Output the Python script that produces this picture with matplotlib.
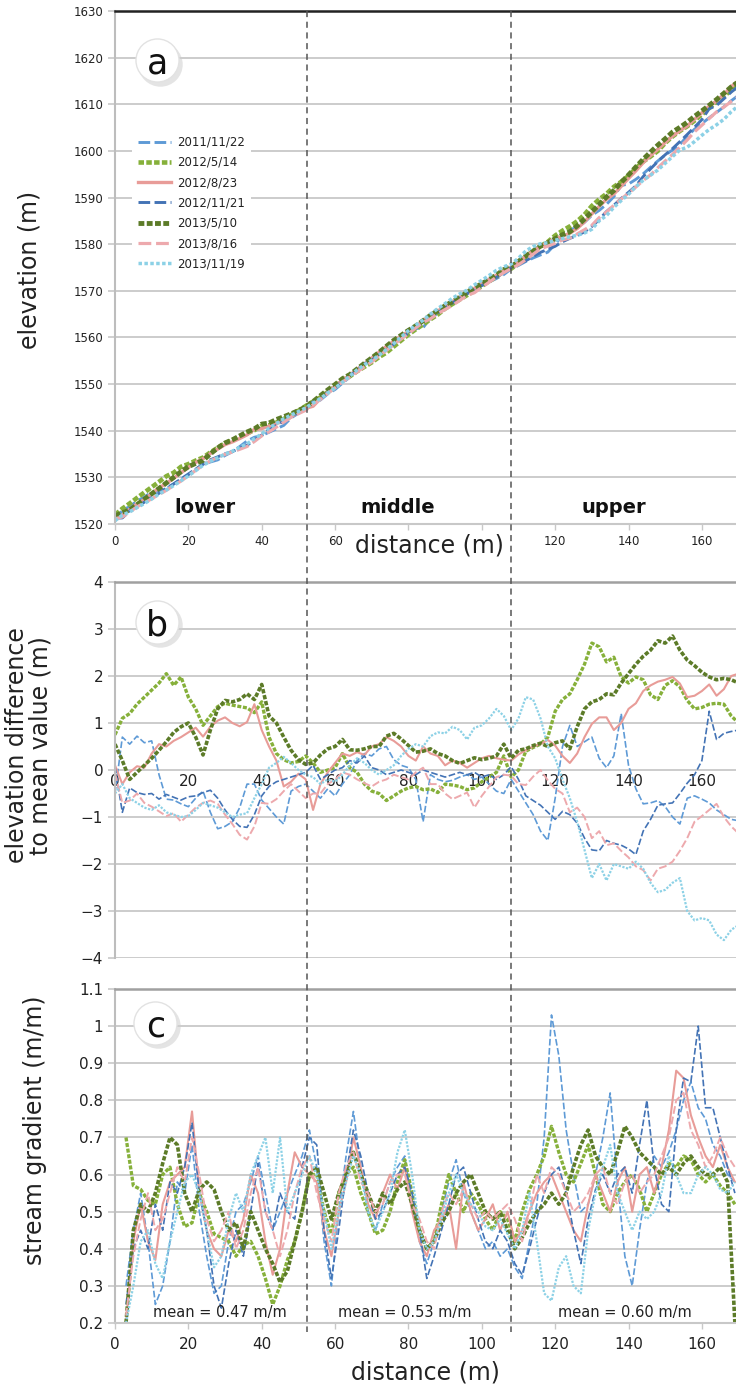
import numpy as np
import matplotlib
matplotlib.use("Agg")
import matplotlib.pyplot as plt
from matplotlib.lines import Line2D

plt.rcParams['font.family'] = ['DejaVu Sans']

# distance along the stream (m), profile and difference values every 2 m
distance = np.arange(0, 171, 2)
# gradient values are centred on odd metres (moving window)
grad_distance = np.arange(3, 170, 2)

surveys = ['2011/11/22', '2012/5/14', '2012/8/23', '2012/11/21',
           '2013/5/10', '2013/8/16', '2013/11/19']

# mean long profile of all surveys (m)
mean_elev = [
    1521.2, 1522.2, 1523.2, 1524.2, 1525.2, 1526.2, 1527.2, 1528.2, 1529.2, 1530.3,
    1531.3, 1532.3, 1533.3, 1534.2, 1535.0, 1535.9, 1536.6, 1537.4, 1538.1, 1538.9,
    1539.6, 1540.5, 1541.4, 1542.3, 1543.2, 1544.1, 1545.0, 1546.1, 1547.2, 1548.3,
    1549.4, 1550.5, 1551.6, 1552.8, 1554.0, 1555.1, 1556.3, 1557.4, 1558.6, 1559.8,
    1561.0, 1562.1, 1563.2, 1564.3, 1565.4, 1566.5, 1567.5, 1568.5, 1569.5, 1570.4,
    1571.3, 1572.2, 1573.1, 1574.0, 1574.9, 1575.9, 1577.0, 1578.0, 1579.0, 1579.8,
    1580.6, 1581.4, 1582.2, 1583.0, 1584.1, 1585.5, 1587.0, 1588.5, 1589.9, 1591.4,
    1592.8, 1594.3, 1595.8, 1597.2, 1598.5, 1599.9, 1601.2, 1602.5, 1603.8, 1605.2,
    1606.5, 1607.8, 1609.1, 1610.4, 1611.8, 1613.0]

# elevation difference to mean value (m)
diff_2011_11_22 = [
    -0.5, 0.7, 0.55, 0.72, 0.58, 0.62, -0.1, -0.62, -0.64, -0.72,
    -0.78, -0.6, -0.45, -0.9, -1.25, -1.2, -1.1, -0.8, -0.3, -0.3,
    -0.64, -0.82, -1.0, -1.15, -0.45, -0.35, -0.3, -0.45, -0.6, -0.4,
    -0.55, -0.3, -0.1, 0.2, 0.35, 0.3, 0.45, 0.5, 0.22, 0.1,
    0.05, -0.2, -1.1, -0.1, -0.2, -0.25, -0.22, -0.15, -0.1, -0.2,
    -0.15, -0.3, -0.45, -0.5, -0.2, -0.45, -0.7, -0.95, -1.3, -1.5,
    -0.6, 0.5, 0.95, 0.5, 0.6, 0.7, 0.25, 0.05, 0.3, 1.2,
    0.1, -0.4, -0.72, -0.7, -0.65, -0.78, -1.0, -1.15, -0.6, -0.55,
    -0.62, -0.7, -0.85, -0.95, -1.05, -1.08]
diff_2012_05_14 = [
    0.75, 1.1, 1.2, 1.4, 1.55, 1.7, 1.85, 2.05, 1.8, 1.98,
    1.55, 1.3, 0.95, 1.15, 1.35, 1.42, 1.38, 1.35, 1.32, 1.22,
    1.45, 0.7, 0.35, 0.22, 0.15, 0.18, 0.3, 0.15, -0.05, 0.0,
    0.05, 0.35, 0.05, -0.05, -0.3, -0.45, -0.5, -0.65, -0.55, -0.45,
    -0.38, -0.35, -0.42, -0.4, -0.48, -0.3, -0.32, -0.35, -0.42, -0.38,
    -0.25, -0.15, -0.05, 0.3, -0.15, 0.0, 0.4, 0.48, 0.55, 0.7,
    1.25, 1.5, 1.62, 1.92, 2.25, 2.7, 2.62, 2.3, 2.4, 1.98,
    1.85, 1.98, 1.92, 1.6, 1.5, 1.8, 1.9, 1.77, 1.48, 1.3,
    1.33, 1.4, 1.42, 1.4, 1.15, 1.0]
diff_2012_08_23 = [
    0.1, -0.3, -0.05, 0.08, 0.05, 0.35, 0.55, 0.5, 0.62, 0.7,
    0.8, 0.9, 0.71, 0.92, 1.05, 1.12, 1.0, 0.93, 1.02, 1.4,
    0.85, 0.5, 0.2, -0.35, -0.25, -0.08, -0.2, -0.85, -0.3, -0.05,
    0.15, 0.35, 0.3, 0.38, 0.32, 0.5, 0.55, 0.7, 0.62, 0.5,
    0.3, 0.2, 0.5, 0.35, 0.3, 0.1, 0.2, 0.15, 0.05, 0.15,
    0.25, 0.3, 0.25, 0.22, 0.2, 0.33, 0.42, 0.5, 0.55, 0.64,
    0.52, 0.3, 0.15, 0.35, 0.7, 0.98, 1.12, 1.12, 0.85, 1.0,
    1.3, 1.42, 1.68, 1.8, 1.88, 1.92, 1.98, 1.84, 1.55, 1.58,
    1.68, 1.82, 1.58, 1.72, 2.0, 2.05]
diff_2012_11_21 = [
    0.07, -0.9, -0.38, -0.48, -0.52, -0.5, -0.62, -0.52, -0.58, -0.64,
    -0.57, -0.55, -0.48, -0.43, -0.6, -0.85, -1.05, -1.2, -1.22, -0.95,
    -0.55, -0.35, -0.25, -0.2, -0.15, -0.1, -0.05, 0.1, -0.2, -0.1,
    0.0, 0.05, 0.2, 0.15, 0.3, 0.05, 0.0, -0.1, -0.05, 0.0,
    -0.05, -0.1, 0.0, -0.05, -0.1, -0.15, -0.1, -0.05, -0.1, -0.05,
    -0.15, -0.1, -0.2, -0.1, 0.07, -0.2, -0.55, -0.65, -0.75, -0.9,
    -1.05, -0.88, -0.95, -1.13, -1.45, -1.7, -1.72, -1.5, -1.56, -1.6,
    -1.68, -1.8, -1.3, -1.05, -0.75, -0.72, -0.7, -0.5, -0.28, -0.1,
    0.2, 1.25, 0.65, 0.78, 0.82, 0.85]
diff_2013_05_10 = [
    0.55, 0.2, -0.2, -0.05, 0.1, 0.25, 0.42, 0.6, 0.8, 0.92,
    1.0, 0.7, 0.32, 0.85, 1.3, 1.48, 1.45, 1.5, 1.62, 1.5,
    1.82, 1.15, 1.0, 0.7, 0.42, 0.22, 0.12, 0.15, 0.32, 0.45,
    0.5, 0.65, 0.43, 0.42, 0.45, 0.5, 0.5, 0.72, 0.78, 0.66,
    0.52, 0.38, 0.4, 0.45, 0.35, 0.3, 0.2, 0.14, 0.2, 0.26,
    0.22, 0.25, 0.3, 0.55, 0.25, 0.42, 0.45, 0.52, 0.57, 0.5,
    0.58, 0.62, 0.45, 0.92, 1.3, 1.45, 1.5, 1.62, 1.6, 1.85,
    2.05, 2.25, 2.42, 2.55, 2.75, 2.7, 2.85, 2.55, 2.34, 2.22,
    2.08, 1.98, 1.92, 1.95, 1.92, 1.85]
diff_2013_08_16 = [
    -0.07, -0.7, -0.65, -0.5, -0.7, -0.78, -0.88, -0.98, -0.92, -1.1,
    -0.95, -0.8, -0.7, -0.65, -0.72, -0.95, -1.15, -1.38, -1.48, -1.2,
    -0.7, -0.72, -0.62, -0.45, -0.3, -0.45, -0.6, -0.5, -0.5, -0.3,
    -0.2, -0.05, -0.1, -0.2, -0.28, -0.35, -0.25, -0.2, -0.1, -0.15,
    -0.2, -0.05, 0.05, -0.3, -0.3, -0.5, -0.62, -0.55, -0.48, -0.8,
    -0.55, -0.35, -0.15, -0.1, -0.12, -0.3, -0.32, -0.14, 0.0, -0.22,
    -0.4, -0.5, -0.9, -0.8, -1.0, -1.45, -1.3, -1.6, -1.56, -1.72,
    -1.86, -2.05, -2.13, -2.35, -2.1, -2.05, -1.95, -1.72, -1.45, -1.1,
    -0.98, -0.85, -0.72, -1.0, -1.2, -1.35]
diff_2013_11_19 = [
    -0.5, -0.3, -0.6, -0.7, -0.8, -0.85, -0.75, -0.9, -0.95, -1.0,
    -0.98, -0.85, -0.7, -0.75, -0.8, -0.9, -1.0, -0.95, -0.92, -0.6,
    -0.3, 0.05, 0.15, 0.28, 0.15, 0.0, -0.1, -0.15, -0.3, -0.2,
    -0.25, -0.1, 0.1, 0.25, 0.15, 0.0, -0.1, 0.0, 0.1, 0.3,
    0.45, 0.55, 0.5, 0.72, 0.8, 0.78, 0.92, 0.85, 0.65, 0.9,
    0.95, 1.1, 1.3, 1.15, 0.85, 1.1, 1.55, 1.5, 1.1, 0.5,
    0.25, -0.2, -0.6, -1.1, -1.7, -2.3, -2.0, -2.35, -2.0, -2.05,
    -2.1, -1.95, -2.1, -2.4, -2.6, -2.55, -2.4, -2.3, -3.0, -3.2,
    -3.15, -3.2, -3.5, -3.62, -3.4, -3.3]

# stream gradient (m/m)
grad_2011_11_22 = [
    0.3, 0.45, 0.55, 0.42, 0.25, 0.3, 0.42, 0.58, 0.55, 0.68,
    0.5, 0.38, 0.28, 0.3, 0.42, 0.5, 0.52, 0.58, 0.65, 0.55,
    0.45, 0.5, 0.55, 0.6, 0.65, 0.72, 0.62, 0.42, 0.3, 0.5,
    0.65, 0.77, 0.62, 0.5, 0.45, 0.52, 0.58, 0.62, 0.65, 0.52,
    0.42, 0.36, 0.42, 0.5, 0.58, 0.64, 0.55, 0.5, 0.45, 0.4,
    0.42, 0.38, 0.4, 0.35, 0.32, 0.42, 0.52, 0.7, 1.03, 0.92,
    0.72, 0.6, 0.5, 0.52, 0.6, 0.7, 0.82, 0.58, 0.38, 0.3,
    0.45, 0.58, 0.65, 0.62, 0.66, 0.72, 0.8, 0.85, 0.78, 0.75,
    0.68, 0.65, 0.6, 0.58]
grad_2012_05_14 = [
    0.7, 0.57, 0.56, 0.53, 0.52, 0.6, 0.62, 0.52, 0.46, 0.47,
    0.55, 0.5, 0.44, 0.43, 0.42, 0.38, 0.41, 0.42, 0.38, 0.32,
    0.25, 0.3, 0.37, 0.42, 0.5, 0.6, 0.6, 0.5, 0.44, 0.55,
    0.6, 0.62, 0.55, 0.5, 0.44, 0.45, 0.5, 0.58, 0.64, 0.55,
    0.45, 0.4, 0.42, 0.52, 0.6, 0.55, 0.5, 0.55, 0.52, 0.48,
    0.45, 0.5, 0.48, 0.42, 0.5, 0.56, 0.6, 0.65, 0.73, 0.66,
    0.6, 0.58, 0.63, 0.68, 0.6, 0.52, 0.5, 0.55, 0.58, 0.6,
    0.56, 0.5, 0.55, 0.6, 0.63, 0.62, 0.65, 0.64, 0.6, 0.58,
    0.6, 0.57, 0.55, 0.52]
grad_2012_08_23 = [
    0.2, 0.42, 0.52, 0.42, 0.37, 0.52, 0.58, 0.6, 0.62, 0.77,
    0.55, 0.45, 0.4, 0.38, 0.45, 0.42, 0.48, 0.6, 0.55, 0.42,
    0.33, 0.4, 0.55, 0.66, 0.62, 0.6, 0.58, 0.45, 0.38, 0.5,
    0.58, 0.7, 0.62, 0.52, 0.48, 0.55, 0.6, 0.56, 0.62, 0.5,
    0.42, 0.38, 0.45, 0.48, 0.52, 0.4, 0.58, 0.5, 0.45, 0.48,
    0.52, 0.45, 0.5, 0.42, 0.45, 0.5, 0.55, 0.58, 0.6, 0.55,
    0.5, 0.45, 0.42, 0.52, 0.6, 0.55, 0.5, 0.58, 0.62, 0.5,
    0.6, 0.62, 0.55, 0.62, 0.72, 0.88, 0.86, 0.76, 0.7, 0.65,
    0.62, 0.68, 0.62, 0.58]
grad_2012_11_21 = [
    0.25, 0.4, 0.45, 0.4, 0.52, 0.45, 0.58, 0.55, 0.62, 0.74,
    0.55, 0.45, 0.3, 0.24, 0.36, 0.45, 0.38, 0.5, 0.63, 0.5,
    0.45, 0.55, 0.5, 0.48, 0.62, 0.7, 0.68, 0.45, 0.32, 0.45,
    0.6, 0.72, 0.65, 0.55, 0.48, 0.5, 0.55, 0.6, 0.62, 0.55,
    0.45, 0.32, 0.38, 0.45, 0.52, 0.6, 0.62, 0.55, 0.48, 0.42,
    0.4, 0.45, 0.42, 0.36, 0.33, 0.4, 0.48, 0.55, 0.6, 0.62,
    0.55, 0.45, 0.36, 0.48, 0.56, 0.6, 0.55, 0.6, 0.62, 0.55,
    0.68, 0.8, 0.62, 0.52, 0.5, 0.72, 0.86, 0.85, 1.0, 0.78,
    0.78, 0.7, 0.62, 0.55]
grad_2013_05_10 = [
    0.2, 0.45, 0.52, 0.5, 0.55, 0.63, 0.7, 0.68, 0.55, 0.5,
    0.56, 0.58, 0.56, 0.5, 0.45, 0.47, 0.4, 0.5, 0.45, 0.4,
    0.36, 0.31, 0.34, 0.42, 0.5, 0.6, 0.62, 0.55, 0.48, 0.55,
    0.6, 0.66, 0.6, 0.55, 0.5, 0.55, 0.52, 0.56, 0.58, 0.52,
    0.45, 0.4, 0.42, 0.47, 0.5, 0.55, 0.58, 0.6, 0.55, 0.5,
    0.48, 0.5, 0.45, 0.4, 0.43, 0.47, 0.5, 0.52, 0.55, 0.52,
    0.55, 0.62, 0.68, 0.72, 0.65, 0.62, 0.6, 0.66, 0.73, 0.7,
    0.66, 0.64, 0.62, 0.6, 0.62, 0.6, 0.63, 0.65, 0.62, 0.6,
    0.6, 0.62, 0.58, 0.2]
grad_2013_08_16 = [
    0.22, 0.38, 0.48, 0.55, 0.45, 0.48, 0.55, 0.62, 0.58, 0.7,
    0.6, 0.48, 0.42, 0.45, 0.5, 0.4, 0.45, 0.55, 0.62, 0.5,
    0.45, 0.38, 0.45, 0.55, 0.62, 0.65, 0.55, 0.48, 0.42, 0.55,
    0.62, 0.66, 0.58, 0.55, 0.5, 0.52, 0.58, 0.6, 0.6, 0.52,
    0.48, 0.42, 0.4, 0.5, 0.55, 0.52, 0.56, 0.52, 0.48, 0.5,
    0.48, 0.5, 0.52, 0.48, 0.42, 0.5, 0.6, 0.55, 0.62, 0.6,
    0.55, 0.5, 0.52, 0.55, 0.6, 0.62, 0.55, 0.52, 0.58, 0.6,
    0.55, 0.58, 0.6, 0.65, 0.7, 0.8, 0.82, 0.72, 0.68, 0.62,
    0.65, 0.7, 0.65, 0.62]
grad_2013_11_19 = [
    0.2, 0.3, 0.42, 0.45, 0.36, 0.32, 0.42, 0.5, 0.58, 0.6,
    0.55, 0.45, 0.35, 0.38, 0.48, 0.55, 0.5, 0.6, 0.65, 0.7,
    0.55, 0.7, 0.5, 0.55, 0.6, 0.65, 0.6, 0.5, 0.4, 0.5,
    0.58, 0.65, 0.6, 0.5, 0.45, 0.5, 0.55, 0.66, 0.72, 0.6,
    0.45, 0.4, 0.42, 0.48, 0.55, 0.6, 0.55, 0.52, 0.5, 0.46,
    0.45, 0.48, 0.44, 0.4, 0.45, 0.55, 0.42, 0.28, 0.26, 0.35,
    0.38, 0.3, 0.28, 0.45, 0.55, 0.62, 0.68, 0.55, 0.5, 0.45,
    0.5, 0.48, 0.5, 0.55, 0.65, 0.6, 0.55, 0.55, 0.6, 0.62,
    0.6, 0.56, 0.55, 0.58]

diffs = [diff_2011_11_22, diff_2012_05_14, diff_2012_08_23, diff_2012_11_21,
         diff_2013_05_10, diff_2013_08_16, diff_2013_11_19]
grads = [grad_2011_11_22, grad_2012_05_14, grad_2012_08_23, grad_2012_11_21,
         grad_2013_05_10, grad_2013_08_16, grad_2013_11_19]

section_bounds = [52.4, 107.9]
section_names = ['lower', 'middle', 'upper']
section_means = [0.47, 0.53, 0.60]

elev_ticks = np.arange(1520, 1631, 10)
diff_ticks = np.arange(-4, 5, 1)
grad_ticks = [0.2, 0.3, 0.4, 0.5, 0.6, 0.7, 0.8, 0.9, 1.0, 1.1]
grad_tick_labels = ['0.2', '0.3', '0.4', '0.5', '0.6', '0.7', '0.8', '0.9', '1', '1.1']
dist_ticks = np.arange(0, 161, 20)

# line look per survey: colour, dash pattern, width
styles = {
    '2011/11/22': ('#5e9ad6', (0, (4, 1.5)), 1.2),
    '2012/5/14': ('#86b03a', (0, (1.2, 0.5)), 2.4),
    '2012/8/23': ('#e89c98', '-', 1.5),
    '2012/11/21': ('#4373b5', (0, (4, 1.5)), 1.2),
    '2013/5/10': ('#5c7b28', (0, (1.2, 0.5)), 2.6),
    '2013/8/16': ('#eda9ad', (0, (4, 1.5)), 1.4),
    '2013/11/19': ('#8cd1e6', (0, (1, 0.7)), 1.6),
}

GRID = '#c8c8c8'
TEXT = '#222222'

fig = plt.figure(figsize=(7.36, 13.87), dpi=100)
W, H = 736, 1387
ax_a = fig.add_axes([115 / W, 1 - 524 / H, 1 - 115 / W, 513 / H])
ax_b = fig.add_axes([115 / W, 1 - 958 / H, 1 - 115 / W, 376 / H])
ax_c = fig.add_axes([115 / W, 1 - 1323 / H, 1 - 115 / W, 334 / H])


def style_axes(ax, top_color):
    ax.set_xlim(0, 169.3)
    ax.grid(axis='y', color=GRID, lw=1.3)
    ax.set_axisbelow(True)
    ax.spines['right'].set_visible(False)
    ax.spines['left'].set_color('#bdbdbd')
    ax.spines['left'].set_linewidth(1.5)
    ax.spines['top'].set_color(top_color)
    ax.spines['top'].set_linewidth(1.8)
    ax.spines['bottom'].set_color(GRID)
    ax.spines['bottom'].set_linewidth(1.5)
    ax.tick_params(axis='y', length=5, width=1.2, color=GRID, labelcolor=TEXT)
    ax.tick_params(axis='x', length=4, width=1, color=GRID, labelcolor=TEXT)


def add_badge(ax, x, y, letter):
    ax.plot([x + 0.004], [y - 0.008], 'o', ms=32, mfc='#cfcfcf', mec='none',
            alpha=0.55, transform=ax.transAxes, zorder=6, clip_on=False)
    ax.plot([x], [y], 'o', ms=31, mfc='white', mec='#e2e2e2', mew=1,
            transform=ax.transAxes, zorder=7, clip_on=False)
    ax.text(x, y, letter, transform=ax.transAxes, ha='center',
            va='center_baseline', fontsize=25, color='#111111', zorder=8)


# (a) long profiles
for name, d in zip(surveys, diffs):
    color, ls, lw = styles[name]
    elev = np.array(mean_elev) + np.array(d)
    ax_a.plot(distance, elev, color=color, ls=ls, lw=lw + 0.9, label=name)
style_axes(ax_a, '#222222')
ax_a.set_ylim(1520, 1630)
ax_a.set_yticks(elev_ticks)
ax_a.set_xticks(dist_ticks)
ax_a.set_xticklabels(['' if t in (80, 100) else str(t) for t in dist_ticks])
ax_a.tick_params(axis='y', labelsize=8.5)
ax_a.tick_params(axis='x', labelsize=8.5, pad=4)
ax_a.set_ylabel('elevation (m)', fontsize=17, color=TEXT)
ax_a.yaxis.set_label_coords(-0.118, 0.495)
ax_a.text(0.507, -0.041, 'distance (m)', transform=ax_a.transAxes,
          ha='center', va='center', fontsize=17, color=TEXT)
for lx, name in zip([24.5, 77, 136], section_names):
    ax_a.text(lx, 1523.6, name, ha='center', va='center', fontsize=14,
              fontweight='bold', color='#111111')
leg = ax_a.legend(loc='upper left', bbox_to_anchor=(0.018, 0.78), fontsize=8.5,
                  frameon=True, framealpha=1, edgecolor='none', handlelength=2.8,
                  labelspacing=0.62, borderpad=0.5, handletextpad=0.5)
for t in leg.get_texts():
    t.set_color(TEXT)
add_badge(ax_a, 0.068, 0.905, 'a')

# (b) elevation difference to the mean profile
for name, d in zip(surveys, diffs):
    color, ls, lw = styles[name]
    ax_b.plot(distance, d, color=color, ls=ls, lw=lw)
style_axes(ax_b, '#a0a0a0')
ax_b.set_ylim(-4, 4)
ax_b.set_yticks(diff_ticks)
ax_b.set_xticks(dist_ticks)
ax_b.spines['bottom'].set_position(('data', 0))
ax_b.spines['bottom'].set_visible(False)
ax_b.tick_params(axis='x', length=0, labelsize=11, pad=3)
ax_b.tick_params(axis='y', labelsize=11)
ax_b.set_ylabel('elevation difference\nto mean value (m)', fontsize=17,
                color=TEXT, linespacing=1.0)
ax_b.yaxis.set_label_coords(-0.1, 0.565)
add_badge(ax_b, 0.068, 0.894, 'b')

# (c) stream gradient
for name, g in zip(surveys, grads):
    color, ls, lw = styles[name]
    ax_c.plot(grad_distance, g, color=color, ls=ls, lw=lw)
style_axes(ax_c, '#a0a0a0')
ax_c.set_ylim(0.2, 1.1)
ax_c.set_yticks(grad_ticks)
ax_c.set_yticklabels(grad_tick_labels)
ax_c.set_xticks(dist_ticks)
ax_c.tick_params(axis='both', labelsize=11)
ax_c.tick_params(axis='x', pad=6)
ax_c.set_ylabel('stream gradient (m/m)', fontsize=17, color=TEXT)
ax_c.yaxis.set_label_coords(-0.11, 0.578)
ax_c.set_xlabel('distance (m)', fontsize=17, color=TEXT, labelpad=6)
for mx, m in zip([28.5, 79, 139], section_means):
    ax_c.text(mx, 0.228, f'mean = {m:.2f} m/m', ha='center', va='center',
              fontsize=10.5, color=TEXT)
add_badge(ax_c, 0.065, 0.898, 'c')

# section boundaries run through all three panels
inv = fig.transFigure.inverted()
for xb in section_bounds:
    xf = inv.transform(ax_a.transData.transform((xb, 1520)))[0]
    fig.add_artist(Line2D([xf, xf], [1 - 11 / H, 1 - 1332 / H],
                          transform=fig.transFigure, color='#555555', lw=1.1,
                          ls=(0, (4, 3))))

fig.savefig('out.png', dpi=100)
